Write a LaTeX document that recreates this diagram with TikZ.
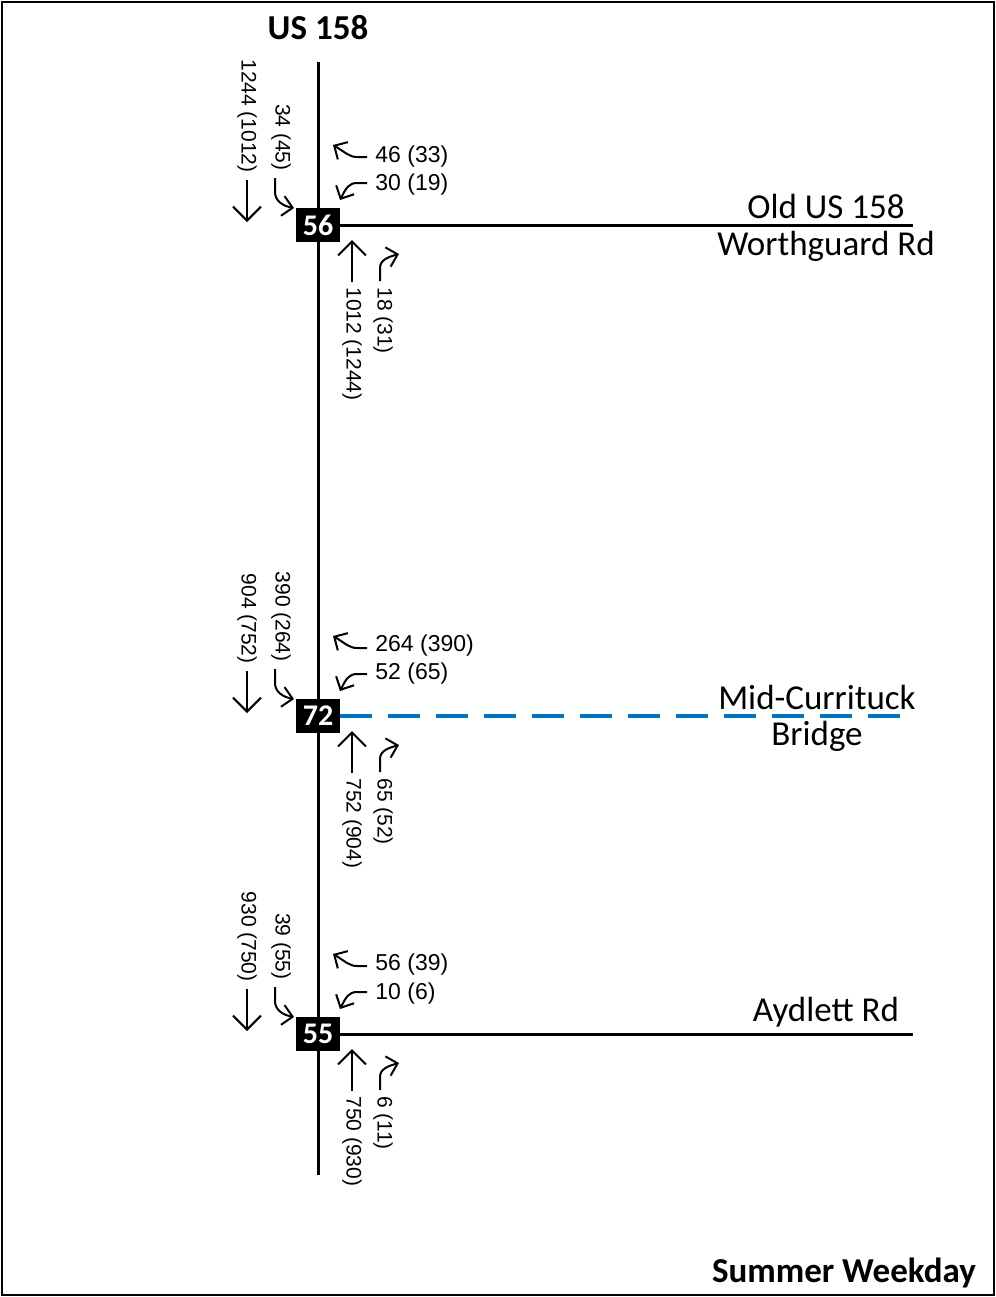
\documentclass[tikz,border=0pt]{standalone}
\usepackage{fontspec}
\setmainfont{Carlito}
\newfontfamily\arialfont{Liberation Sans}
\usepackage{xcolor}
\usepackage{tikz}
\usetikzlibrary{arrows.meta,calc}
\definecolor{bridgeblue}{RGB}{0,112,192}

\begin{document}
\begin{tikzpicture}[
  x=0.5pt, y=-0.5pt,
  road/.style={line width=1.5pt, black},
  bridge/.style={line width=2pt, bridgeblue, dash pattern=on 16pt off 8pt},
  isect/.style={fill=black, text=white, inner sep=0pt,
    font=\fontsize{15}{15}\selectfont\bfseries,
    minimum width=22pt, minimum height=17pt},
  rdname/.style={font=\fontsize{17.5}{18}\selectfont, inner sep=0pt},
  title/.style={font=\fontsize{17.5}{18}\selectfont\bfseries, inner sep=0pt},
  vol/.style={font=\arialfont\fontsize{11.5}{12}\selectfont, inner sep=0pt, anchor=west},
  volv/.style={font=\arialfont\fontsize{10.5}{12}\selectfont, inner sep=0pt, rotate=-90},
  thru/.style={line width=1pt, -{Straight Barb[length=7pt,width=14pt]}},
  turn/.style={line width=1pt, -{Straight Barb[length=5pt,width=10pt]}},
]
\useasboundingbox (0,0) rectangle (996,1297);
\draw[line width=1pt] (2,2) rectangle (994,1295);

\coordinate (top) at (318,62);
\coordinate (bot) at (318,1175);
\coordinate (oldE) at (913,225);
\coordinate (brE) at (913,716);
\coordinate (ayE) at (913,1034);

\node[isect] (I56) at (318,225) {56};
\node[isect] (I72) at (318,716) {72};
\node[isect] (I55) at (318,1034) {55};

\draw[road] (top) -- (I56) -- (I72) -- (I55) -- (bot);
\draw[road] (I56) -- (oldE);
\draw[bridge] (I72) -- (brE);
\draw[road] (I55) -- (ayE);

\node[title] (US) at (318,28) {US 158};
\node[rdname] (oldA) at (826,206) {Old US 158};
\node[rdname] (oldB) at (826,246) {Worthguard Rd};
\node[rdname] (brA) at (817,697) {Mid-Currituck};
\node[rdname] (brB) at (817,736) {Bridge};
\node[rdname] (ayA) at (826,1012) {Aydlett Rd};
\node[title] (period) at (844,1273) {Summer Weekday};

\begin{scope}[shift={(I56)}]
\draw[thru] (-71,-45) -- (-71,-3);
\node[volv, anchor=east] (v56a) at (-71,-52) {1244 (1012)};
\draw[turn] (-43,-47) -- (-43,-33) .. controls (-43,-24) and (-35,-19) .. (-24,-17);
\node[volv, anchor=east] (v56b) at (-37,-54) {34 (45)};
\draw[turn] (49,-68) -- (39,-68) .. controls (31,-68) and (27,-73) .. (15,-80);
\node[vol] (v56c) at (57,-68) {46 (33)};
\draw[turn] (49,-42) -- (39,-42) .. controls (31,-42) and (28,-37) .. (22,-25);
\node[vol] (v56d) at (57,-40) {30 (19)};
\draw[thru] (34,57) -- (34,15);
\node[volv, anchor=west] (v56e) at (34,62) {1012 (1244)};
\draw[turn] (62,56) -- (62,43) .. controls (62,35) and (70,32) .. (81,29);
\node[volv, anchor=west] (v56f) at (65,62) {18 (31)};
\end{scope}

\begin{scope}[shift={(I72)}]
\draw[thru] (-71,-45) -- (-71,-3);
\node[volv, anchor=east] (v72a) at (-71,-52) {904 (752)};
\draw[turn] (-43,-47) -- (-43,-33) .. controls (-43,-24) and (-35,-19) .. (-24,-17);
\node[volv, anchor=east] (v72b) at (-37,-54) {390 (264)};
\draw[turn] (49,-68) -- (39,-68) .. controls (31,-68) and (27,-73) .. (15,-80);
\node[vol] (v72c) at (57,-70) {264 (390)};
\draw[turn] (49,-42) -- (39,-42) .. controls (31,-42) and (28,-37) .. (22,-25);
\node[vol] (v72d) at (57,-42) {52 (65)};
\draw[thru] (34,57) -- (34,15);
\node[volv, anchor=west] (v72e) at (34,62) {752 (904)};
\draw[turn] (62,56) -- (62,43) .. controls (62,35) and (70,32) .. (81,29);
\node[volv, anchor=west] (v72f) at (65,62) {65 (52)};
\end{scope}

\begin{scope}[shift={(I55)}]
\draw[thru] (-71,-45) -- (-71,-3);
\node[volv, anchor=east] (v55a) at (-71,-52) {930 (750)};
\draw[turn] (-43,-47) -- (-43,-33) .. controls (-43,-24) and (-35,-19) .. (-24,-17);
\node[volv, anchor=east] (v55b) at (-37,-54) {39 (55)};
\draw[turn] (49,-68) -- (39,-68) .. controls (31,-68) and (27,-73) .. (15,-80);
\node[vol] (v55c) at (57,-69) {56 (39)};
\draw[turn] (49,-42) -- (39,-42) .. controls (31,-42) and (28,-37) .. (22,-25);
\node[vol] (v55d) at (57,-40) {10 (6)};
\draw[thru] (34,57) -- (34,15);
\node[volv, anchor=west] (v55e) at (34,62) {750 (930)};
\draw[turn] (62,56) -- (62,43) .. controls (62,35) and (70,32) .. (81,29);
\node[volv, anchor=west] (v55f) at (65,62) {6 (11)};
\end{scope}
\end{tikzpicture}
\end{document}
